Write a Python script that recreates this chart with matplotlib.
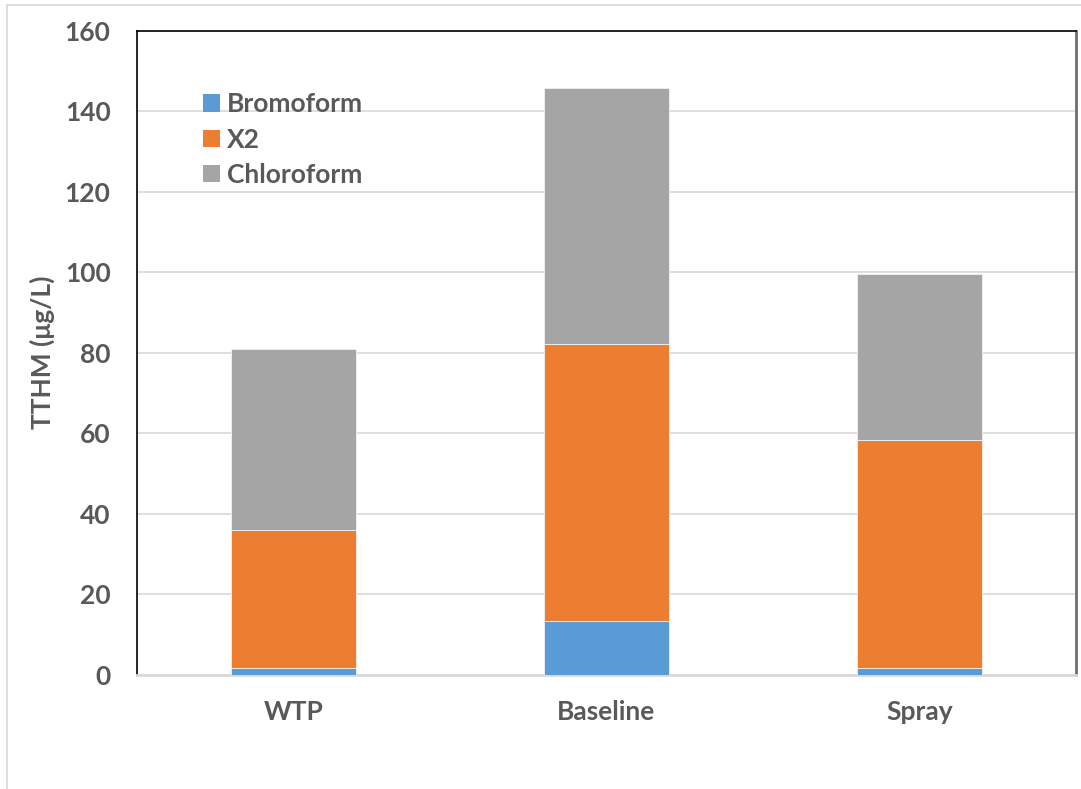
import matplotlib
matplotlib.use("Agg")
import matplotlib.pyplot as plt
from matplotlib.patches import Patch
from matplotlib.lines import Line2D
from matplotlib.font_manager import FontProperties
import numpy as np

categories = ["WTP", "Baseline", "Spray"]
bromoform = [1.5, 13.4, 1.5]
x2 = [34.3, 68.8, 56.8]
chloroform = [45.1, 63.6, 41.2]

series_names = ["Bromoform", "X2", "Chloroform"]
series_colors = ["#5B9BD5", "#ED7D31", "#A5A5A5"]
y_ticks = [0, 20, 40, 60, 80, 100, 120, 140, 160]

text_color = "#595959"
plt.rcParams["font.family"] = ["Lato", "DejaVu Sans"]
bold = FontProperties(family=["Lato", "DejaVu Sans"], weight="bold", size=19)

fig = plt.figure(figsize=(10.81, 7.89), dpi=100)
ax = fig.add_axes([0.1267, 0.1451, 0.8687, 0.8160])

pos = np.arange(len(categories))
bottom = np.zeros(len(categories))
for name, vals, col in zip(series_names, [bromoform, x2, chloroform], series_colors):
    ax.bar(pos, vals, width=0.4, bottom=bottom, color=col, label=name,
           edgecolor="#f2f2f2", linewidth=0.6, zorder=3)
    bottom += np.array(vals)

ax.set_xlim(-0.5, len(categories) - 0.5)
ax.set_ylim(0, 160)
ax.set_yticks(y_ticks)
ax.set_xticks(pos)
ax.set_xticklabels(categories)
ax.yaxis.grid(True, color="#d9d9d9", linewidth=1.2, zorder=0)
ax.set_axisbelow(True)

ax.tick_params(axis="both", length=0, labelsize=19, labelcolor=text_color)
ax.tick_params(axis="y", pad=19)
ax.tick_params(axis="x", pad=18)
for lab in ax.get_xticklabels() + ax.get_yticklabels():
    lab.set_fontweight("bold")

ax.spines["left"].set_color("black")
ax.spines["left"].set_linewidth(1.2)
ax.spines["top"].set_color("black")
ax.spines["top"].set_linewidth(1.2)
ax.spines["right"].set_color("#6e6e6e")
ax.spines["right"].set_linewidth(2.0)
ax.spines["bottom"].set_color("#d9d9d9")
ax.spines["bottom"].set_linewidth(2.0)

ax.set_ylabel("TTHM (μg/L)", fontproperties=bold, color=text_color, labelpad=7)

handles = [Patch(facecolor=c, edgecolor="none") for c in series_colors]
leg = ax.legend(handles, series_names, loc="upper left", bbox_to_anchor=(0.070, 0.904),
                frameon=False, prop=bold,
                handlelength=0.65, handleheight=0.65, handletextpad=0.27,
                labelspacing=0.42, borderpad=0, borderaxespad=0)
for t in leg.get_texts():
    t.set_color(text_color)

# light outer chart-area border (top and left edges)
fig.add_artist(Line2D([7 / 1081, 1.0], [1 - 5 / 789, 1 - 5 / 789], transform=fig.transFigure,
                      color="#d9d9d9", linewidth=1.2))
fig.add_artist(Line2D([7 / 1081, 7 / 1081], [0, 1 - 5 / 789], transform=fig.transFigure,
                      color="#d9d9d9", linewidth=1.2))

fig.savefig("out.png", dpi=100)
